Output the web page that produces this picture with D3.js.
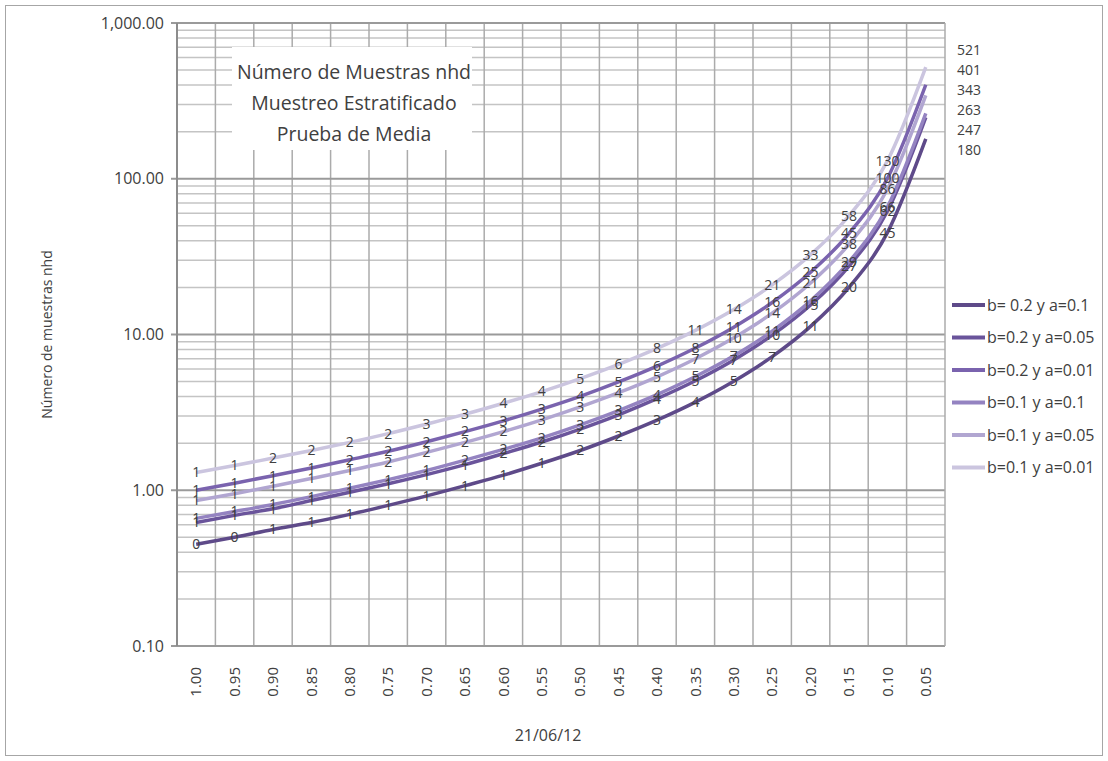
<!DOCTYPE html>
<html>
<head>
<meta charset="utf-8">
<script src="https://cdn.jsdelivr.net/npm/d3@7"></script>
<style>
  body { margin: 0; background: #fff; }
  svg text { font-family: "Open Sans", "Noto Sans", sans-serif; fill: #404040; }
</style>
</head>
<body>
<svg id="chart" width="1108" height="761"></svg>
<script>
// categories (x axis, read left to right)
const categories = ['1.00', '0.95', '0.90', '0.85', '0.80', '0.75', '0.70', '0.65', '0.60', '0.55',
                    '0.50', '0.45', '0.40', '0.35', '0.30', '0.25', '0.20', '0.15', '0.10', '0.05'];

const seriesNames = ['b= 0.2 y a=0.1', 'b=0.2 y a=0.05', 'b=0.2 y a=0.01',
                     'b=0.1 y a=0.1', 'b=0.1 y a=0.05', 'b=0.1 y a=0.01'];

// values
const b02a10 = [0.45, 0.4995, 0.56, 0.62, 0.70, 0.80, 0.92, 1.07, 1.25, 1.49, 1.80, 2.23, 2.82, 3.68, 5.01, 7.21, 11.27, 20.04, 45.1, 180.3];
const b02a05 = [0.62, 0.69, 0.76, 0.86, 0.97, 1.10, 1.26, 1.46, 1.72, 2.04, 2.47, 3.05, 3.87, 5.05, 6.87, 9.90, 15.46, 27.49, 61.85, 247.4];
const b02a01 = [1.00, 1.11, 1.24, 1.39, 1.57, 1.78, 2.05, 2.38, 2.79, 3.32, 4.01, 4.96, 6.27, 8.19, 11.15, 16.06, 25.09, 44.60, 100.4, 401.4];
const b01a10 = [0.66, 0.73, 0.81, 0.91, 1.03, 1.17, 1.34, 1.56, 1.83, 2.17, 2.63, 3.25, 4.11, 5.37, 7.30, 10.52, 16.44, 29.22, 65.74, 263.0];
const b01a05 = [0.86, 0.95, 1.06, 1.19, 1.34, 1.52, 1.75, 2.03, 2.38, 2.83, 3.43, 4.23, 5.35, 6.99, 9.52, 13.71, 21.42, 38.08, 85.67, 342.7];
const b01a01 = [1.30, 1.44, 1.61, 1.80, 2.03, 2.31, 2.66, 3.08, 3.62, 4.30, 5.21, 6.43, 8.14, 10.63, 14.47, 20.83, 32.55, 57.87, 130.2, 520.9];

const seriesColors = ['#5e4a89', '#6a549b', '#7a63ae', '#9483c1', '#b1a6d1', '#cbc5df'];

const yTicks = [0.1, 1, 10, 100, 1000];
const titleLines = ['Número de Muestras nhd', 'Muestreo Estratificado', 'Prueba de Media'];

const allSeries = [b02a10, b02a05, b02a01, b01a10, b01a05, b01a01].map((values, i) => ({
    name: seriesNames[i],
    color: seriesColors[i],
    values: values
}));

const svg = d3.select('#chart');
const plot = { left: 177, right: 945, top: 23, bottom: 646 };

// outer frame
svg.append('rect')
    .attr('x', 5.5).attr('y', 5.5)
    .attr('width', 1097).attr('height', 750)
    .attr('fill', '#fff')
    .attr('stroke', '#a6a6a6');

const x = d3.scaleBand()
    .domain(categories)
    .range([plot.left, plot.right]);

const y = d3.scaleLog()
    .domain([0.1, 1000])
    .range([plot.bottom, plot.top]);

const xc = d => x(d) + x.bandwidth() / 2;

// minor gridlines
const minorTicks = [];
[0.1, 1, 10, 100].forEach(dec => {
    for (let k = 2; k <= 9; k++) minorTicks.push(dec * k);
});

svg.append('g')
    .selectAll('line')
    .data(minorTicks)
    .join('line')
    .attr('x1', plot.left).attr('x2', plot.right)
    .attr('y1', d => y(d)).attr('y2', d => y(d))
    .attr('stroke', '#c4c4c4')
    .attr('stroke-width', 1.5);

// vertical gridlines at category borders
svg.append('g')
    .selectAll('line')
    .data(categories.slice(1))
    .join('line')
    .attr('x1', d => x(d)).attr('x2', d => x(d))
    .attr('y1', plot.top).attr('y2', plot.bottom)
    .attr('stroke', '#ababab')
    .attr('stroke-width', 1.5);

// major gridlines
svg.append('g')
    .selectAll('line')
    .data(yTicks)
    .join('line')
    .attr('x1', plot.left - 6).attr('x2', plot.right)
    .attr('y1', d => y(d)).attr('y2', d => y(d))
    .attr('stroke', '#9a9a9a')
    .attr('stroke-width', 2);

// right border and left axis
svg.append('line')
    .attr('x1', plot.right).attr('x2', plot.right)
    .attr('y1', plot.top).attr('y2', plot.bottom)
    .attr('stroke', '#ababab').attr('stroke-width', 1.5);

svg.append('line')
    .attr('x1', plot.left).attr('x2', plot.left)
    .attr('y1', plot.top).attr('y2', plot.bottom)
    .attr('stroke', '#8c8c8c').attr('stroke-width', 2);

// y axis labels
const yAxis = d3.axisLeft(y)
    .tickValues(yTicks)
    .tickFormat(d3.format(',.2f'))
    .tickSize(0)
    .tickPadding(13);

const yAxisG = svg.append('g')
    .attr('transform', `translate(${plot.left},0)`)
    .call(yAxis);
yAxisG.select('.domain').remove();
yAxisG.selectAll('text')
    .style('font-size', '16px')
    .attr('fill', '#404040');

// x axis labels
const xAxis = d3.axisBottom(x).tickSize(0).tickPadding(0);
const xAxisG = svg.append('g')
    .attr('transform', `translate(0,${plot.bottom})`)
    .call(xAxis);
xAxisG.select('.domain').remove();
xAxisG.selectAll('text')
    .attr('transform', 'rotate(-90)')
    .attr('text-anchor', 'end')
    .attr('x', -21)
    .attr('y', 0)
    .attr('dy', '0.35em')
    .style('font-size', '15px')
    .attr('fill', '#404040');

// axis titles
svg.append('text')
    .attr('transform', `translate(52,${(plot.top + plot.bottom) / 2}) rotate(-90)`)
    .attr('text-anchor', 'middle')
    .style('font-size', '14px')
    .text('Número de muestras nhd');

svg.append('text')
    .attr('x', 548)
    .attr('y', 741)
    .attr('text-anchor', 'middle')
    .style('font-size', '16px')
    .text('21/06/12');

// title box
svg.append('rect')
    .attr('x', 232).attr('y', 47)
    .attr('width', 240).attr('height', 103)
    .attr('fill', '#fff');

svg.append('g')
    .selectAll('text')
    .data(titleLines)
    .join('text')
    .attr('x', 354)
    .attr('y', (d, i) => 79 + i * 31)
    .attr('text-anchor', 'middle')
    .style('font-size', '19.5px')
    .text(d => d);

// lines
const line = d3.line()
    .x((d, i) => xc(categories[i]))
    .y(d => y(d))
    .curve(d3.curveMonotoneX);

svg.append('g')
    .selectAll('path')
    .data(allSeries)
    .join('path')
    .attr('d', d => line(d.values))
    .attr('fill', 'none')
    .attr('stroke', d => d.color)
    .attr('stroke-width', 3.5);

// data labels, centred on the points (last point handled separately)
const labelG = svg.append('g');
allSeries.forEach(s => {
    labelG.selectAll(null)
        .data(s.values.slice(0, -1))
        .join('text')
        .attr('x', (d, i) => xc(categories[i]))
        .attr('y', d => y(d))
        .attr('dy', '0.35em')
        .attr('text-anchor', 'middle')
        .style('font-size', '14px')
        .text(d => d3.format('.0f')(d));
});

// labels of the last point, stacked to the right of the plot
const lastVals = allSeries.map(s => s.values[s.values.length - 1]).sort((a, b) => b - a);
labelG.selectAll(null)
    .data(lastVals)
    .join('text')
    .attr('x', plot.right + 12)
    .attr('y', (d, i) => y(lastVals[0]) - 17 + i * 20)
    .attr('dy', '0.35em')
    .style('font-size', '14px')
    .text(d => d3.format('.0f')(d));

// legend
const legend = svg.append('g')
    .selectAll('g')
    .data(allSeries)
    .join('g')
    .attr('transform', (d, i) => `translate(952,${305 + i * 32.5})`);

legend.append('line')
    .attr('x1', 0).attr('x2', 33)
    .attr('stroke', d => d.color)
    .attr('stroke-width', 4);

legend.append('text')
    .attr('x', 35)
    .attr('dy', '0.35em')
    .style('font-size', '16px')
    .text(d => d.name);
</script>
</body>
</html>
